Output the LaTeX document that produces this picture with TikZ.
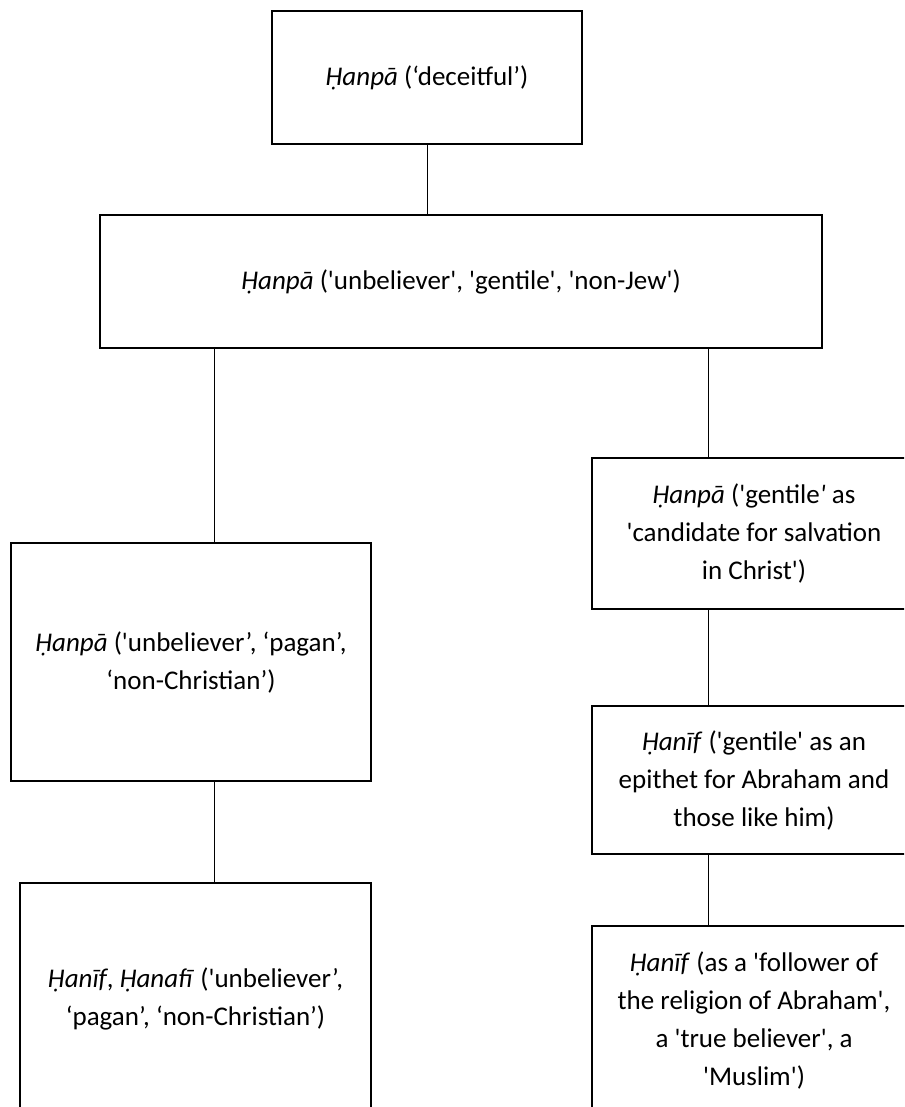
\documentclass[tikz,border=0pt]{standalone}
\usepackage{fontspec}
\setmainfont{Carlito}[Ligatures=TeXOff]
\usetikzlibrary{positioning}

\begin{document}
\begin{tikzpicture}[
  x=1pt, y=-1pt,
  box/.style={draw, line width=2pt, align=center, outer sep=0pt, inner sep=0pt,
              font=\fontsize{27}{38}\selectfont},
  every edge/.style={draw, line width=1pt}
]
\useasboundingbox (0,0) rectangle (904,1107);
\clip (0,0) rectangle (904,1107);
\coordinate (lx) at (214,0);
\coordinate (rx) at (708,0);
\node[box, minimum width=310pt, minimum height=133pt] (top) at (427,77.5)
  {\textit{Ḥanpā} (‘deceitful’)};
\node[box, minimum width=722pt, minimum height=133pt] (gentile) at (461,281.5)
  {\textit{Ḥanpā} ('unbeliever', 'gentile', 'non-Jew')};
\node[box, minimum width=360pt, minimum height=238pt] (pagan) at (191,662)
  {\textit{Ḥanpā} ('unbeliever’, ‘pagan’,\\‘non-Christian’)};
\node[box, minimum width=351pt, minimum height=231pt] (hanafi) at (195.5,998.5)
  {\textit{Ḥanīf}, \textit{Ḥanafī} ('unbeliever’,\\‘pagan’, ‘non-Christian’)};
\node[box, minimum width=324pt, minimum height=151pt] (salv) at (754,533.5)
  {\textit{Ḥanpā} ('gentile\textit{'} as\\'candidate for salvation\\in Christ')};
\node[box, minimum width=324pt, minimum height=148pt, below=97pt of salv] (abr)
  {\textit{Ḥanīf} ('gentile' as an\\epithet for Abraham and\\those like him)};
\node[box, minimum width=324pt, minimum height=188pt, below=72pt of abr] (muslim)
  {\textit{Ḥanīf} (as a 'follower of\\the religion of Abraham',\\a 'true believer', a\\'Muslim')};
\path (top.south) edge (top.south |- gentile.north)
      (gentile.south -| lx) edge (pagan.north -| lx)
      (pagan.south -| lx) edge (hanafi.north -| lx)
      (gentile.south -| rx) edge (salv.north -| rx)
      (salv.south -| rx) edge (abr.north -| rx)
      (abr.south -| rx) edge (muslim.north -| rx);
\end{tikzpicture}
\end{document}
